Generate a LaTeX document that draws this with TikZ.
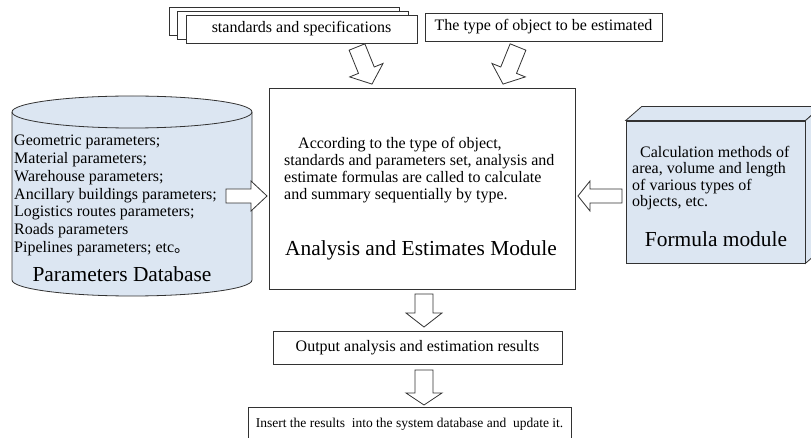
\documentclass[tikz,border=0pt]{standalone}
\usepackage{fontspec}
\setmainfont{Liberation Serif}
\newfontfamily\cjk{Noto Sans CJK SC}
\usetikzlibrary{calc}
\definecolor{dbblue}{RGB}{220,230,242}
\definecolor{linec}{RGB}{50,50,50}
\tikzset{
  box/.style={draw=linec, line width=0.8pt, fill=white, inner sep=0pt, font=\fontsize{16}{17}\selectfont},
  arrowline/.style={draw=linec, line width=0.8pt, fill=white},
  bodytext/.style={inner sep=0pt, anchor=north west, align=left},
  title/.style={inner sep=0pt, font=\fontsize{21.4}{24}\selectfont},
}
% #1 tail point, #2 angle, #3 length, #4 head length, #5 shaft width, #6 head width
\newcommand\blockarrow[6]{%
  \begin{scope}[shift={#1}, rotate=#2]
    \draw[arrowline] (0,{-#5/2}) -- ({#3-#4},{-#5/2}) -- ({#3-#4},{-#6/2}) -- (#3,0)
      -- ({#3-#4},{#6/2}) -- ({#3-#4},{#5/2}) -- (0,{#5/2}) -- cycle;
  \end{scope}}
\begin{document}
\begin{tikzpicture}[x=1pt, y=-1pt]
\useasboundingbox (0,0) rectangle (811,438);
\clip (0,0) rectangle (811,438);

% stacked standards boxes
\node[box, minimum width=230pt, minimum height=28pt] (specA) at (284,21) {};
\node[box, minimum width=231pt, minimum height=28pt] (specB) at (292.5,25) {};
\node[box, minimum width=231pt, minimum height=28pt] (spec) at (301.5,29) {standards and specifications};

% type box
\node[box, minimum width=237pt, minimum height=28pt] (type) at (543.5,27) {The type of object to be estimated};

% main box
\node[box, minimum width=306pt, minimum height=201pt] (main) at (422,188.5) {};
\node[bodytext, font=\fontsize{16}{17}\selectfont] (maintext) at (284,137.5)
  {\hspace*{14pt}According to the type of object,\\
   standards and parameters set, analysis and\\
   estimate formulas are called to calculate\\
   and summary sequentially by type.};
\node[title] (maintitle) at (421,250) {Analysis and Estimates Module};

% parameters database cylinder
\draw[draw=linec, line width=0.8pt, fill=dbblue]
  (12,112) -- (12,280) arc[start angle=180, end angle=360, x radius=120pt, y radius=16pt]
  -- (252,112) arc[start angle=0, end angle=180, x radius=120pt, y radius=16pt] -- cycle;
\draw[draw=linec, line width=0.8pt]
  (12,112) arc[start angle=180, end angle=360, x radius=120pt, y radius=16pt];
\coordinate (db) at (132,196);
\node[bodytext, font=\fontsize{16}{17.8}\selectfont] (dbtext) at (14,135)
  {Geometric parameters;\\
   Material parameters;\\
   Warehouse parameters;\\
   Ancillary buildings parameters;\\
   Logistics routes parameters;\\
   Roads parameters\\
   Pipelines parameters; etc{\cjk 。}};
\node[title] (dbtitle) at (122,274) {Parameters Database};

% formula module cuboid
\node[draw=linec, line width=0.8pt, fill=dbblue, minimum width=179pt, minimum height=142pt, inner sep=0pt] (formula) at (715.5,192) {};
\draw[draw=linec, line width=0.8pt, fill=dbblue]
  (formula.north west) -- ($(formula.north west)+(16,-14)$) -- ($(formula.north east)+(16,-14)$) -- (formula.north east) -- cycle;
\draw[draw=linec, line width=0.8pt, fill=dbblue]
  (formula.north east) -- ($(formula.north east)+(16,-14)$) -- ($(formula.south east)+(16,-14)$) -- (formula.south east) -- cycle;
\node[bodytext, font=\fontsize{16}{16.5}\selectfont] (formtext) at (632,146)
  {\hspace*{8pt}Calculation methods of\\
   area, volume and length\\
   of various types of\\
   objects, etc.};
\node[title] (formtitle) at (716,239) {Formula module};

% output boxes
\node[box, minimum width=289pt, minimum height=33pt] (out) at (417.5,347.5) {Output analysis and estimation results};
\node[box, minimum width=323pt, minimum height=34pt, font=\fontsize{13.5}{15}\selectfont] (insert) at (409.5,424) {Insert the results\ \ into the system database and\ \ update it.};

% hollow block arrows
\blockarrow{(357,47)}{-68}{40}{15}{17}{36}
\blockarrow{(518,47)}{-112}{40}{15}{17}{36}
\blockarrow{(226,196)}{0}{41}{16}{14}{30}
\blockarrow{(622,196)}{180}{44}{12}{14}{30}
\blockarrow{(424,294)}{-90}{33}{14}{18}{36}
\blockarrow{(424,370)}{-90}{35}{12}{18}{36}
\end{tikzpicture}
\end{document}
